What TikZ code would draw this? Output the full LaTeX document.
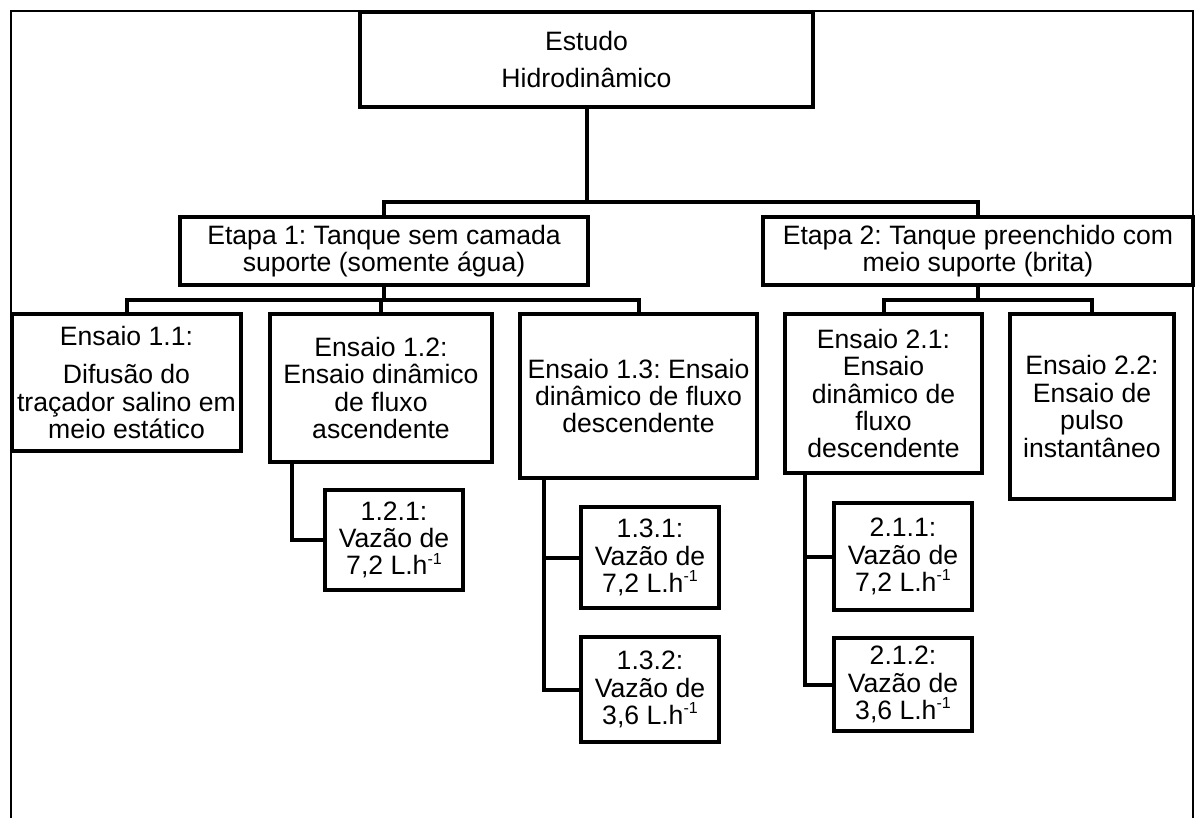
\documentclass[tikz,border=0pt]{standalone}
\usepackage{fontspec}
\setmainfont{Liberation Sans}
\usepackage{tikz}
\usetikzlibrary{positioning, calc}
\frenchspacing
\newcommand{\perhour}{L.h\raisebox{0.4em}{\fontsize{8}{8}\selectfont -1}}
\tikzset{
    treebox/.style={rectangle, draw=black, line width=2pt, fill=white, inner sep=0pt, outer sep=0pt,
        align=center, font=\fontsize{13.3}{13.7}\selectfont},
    etapabox/.style={treebox, minimum height=34pt},
    flowbox/.style={treebox, minimum width=69pt},
    link/.style={line width=2pt},
    frameline/.style={line width=0.6pt},
}

\begin{document}
\begin{tikzpicture}[x=0.5pt, y=-0.5pt]
    \useasboundingbox (0,0) rectangle (1195,818);

    % Outer frame
    \draw[frameline] (11,818) |- (1193,11) -- (1193,818);

    % Top box
    \node[treebox, minimum width=226.5pt, minimum height=47.5pt] (estudo) at (586.5,59.5)
        {Estudo\\[4.8pt]Hidrodinâmico};

    % Two stages
    \node[etapabox, minimum width=204pt] (etapa1) at (384,251)
        {Etapa 1: Tanque sem camada\\suporte (somente água)};
    \node[etapabox, minimum width=215pt] (etapa2) at (978,251)
        {Etapa 2: Tanque preenchido com\\meio suporte (brita)};

    % Tests of stage 1
    \node[treebox, minimum width=114.5pt, minimum height=68.5pt] (e11) at (126.5,382.5)
        {Ensaio 1.1:\\[5.5pt]Difusão do\\traçador salino em\\meio estático};
    \node[treebox, minimum width=111pt, minimum height=74pt] (e12) at (381,388)
        {Ensaio 1.2:\\Ensaio dinâmico\\de fluxo\\ascendente};
    \node[treebox, minimum width=118.5pt, minimum height=82pt] (e13) at (638.5,396)
        {Ensaio 1.3: Ensaio\\dinâmico de fluxo\\descendente};

    % Tests of stage 2
    \node[treebox, minimum width=98.5pt, minimum height=79.5pt] (e21) at (883.5,393.5)
        {Ensaio 2.1:\\Ensaio\\dinâmico de\\fluxo\\descendente};
    \node[treebox, minimum width=82pt, minimum height=92.5pt] (e22) at (1092,406.5)
        {Ensaio 2.2:\\Ensaio de\\pulso\\instantâneo};

    % Flow rates
    \node[flowbox, minimum height=50pt, below right=14pt and 27.5pt of e12.south west] (b121)
        {1.2.1:\\Vazão de\\7,2 \perhour};
    \node[flowbox, minimum height=50.5pt, below right=14.5pt and 30.5pt of e13.south west] (b131)
        {1.3.1:\\Vazão de\\7,2 \perhour};
    \node[flowbox, minimum height=52.5pt, below=14.5pt of b131] (b132)
        {1.3.2:\\Vazão de\\3,6 \perhour};
    \node[flowbox, minimum height=53.5pt, below right=15pt and 24.5pt of e21.south west] (b211)
        {2.1.1:\\Vazão de\\7,2 \perhour};
    \node[flowbox, minimum height=46.5pt, below=14pt of b211] (b212)
        {2.1.2:\\Vazão de\\3,6 \perhour};

    % Bus lines
    \draw[link] (estudo.south) -- ++(0,95) coordinate (bus0);
    \draw[link] (etapa1.north) |- (bus0) -| (etapa2.north);
    \draw[link] (etapa1.south) -- ++(0,15) coordinate (bus1);
    \draw[link] (e11.north) |- (bus1) -| (e13.north);
    \draw[link] (e12.north) -- (e12.north |- bus1);
    \draw[link] (etapa2.south) -- ++(0,15) coordinate (bus2);
    \draw[link] (e21.north) |- (bus2) -| (e22.north);

    % Trunks to flow rates
    \coordinate (t12) at ($(e12.south west)+(22,0)$);
    \coordinate (t13) at ($(e13.south west)+(24,0)$);
    \coordinate (t21) at ($(e21.south west)+(20,0)$);
    \draw[link] (t12) |- (b121.west);
    \draw[link] (t13) |- (b132.west);
    \draw[link] (b131.west) -- (b131.west -| t13);
    \draw[link] (t21) |- (b212.west);
    \draw[link] (b211.west) -- (b211.west -| t21);
\end{tikzpicture}
\end{document}
